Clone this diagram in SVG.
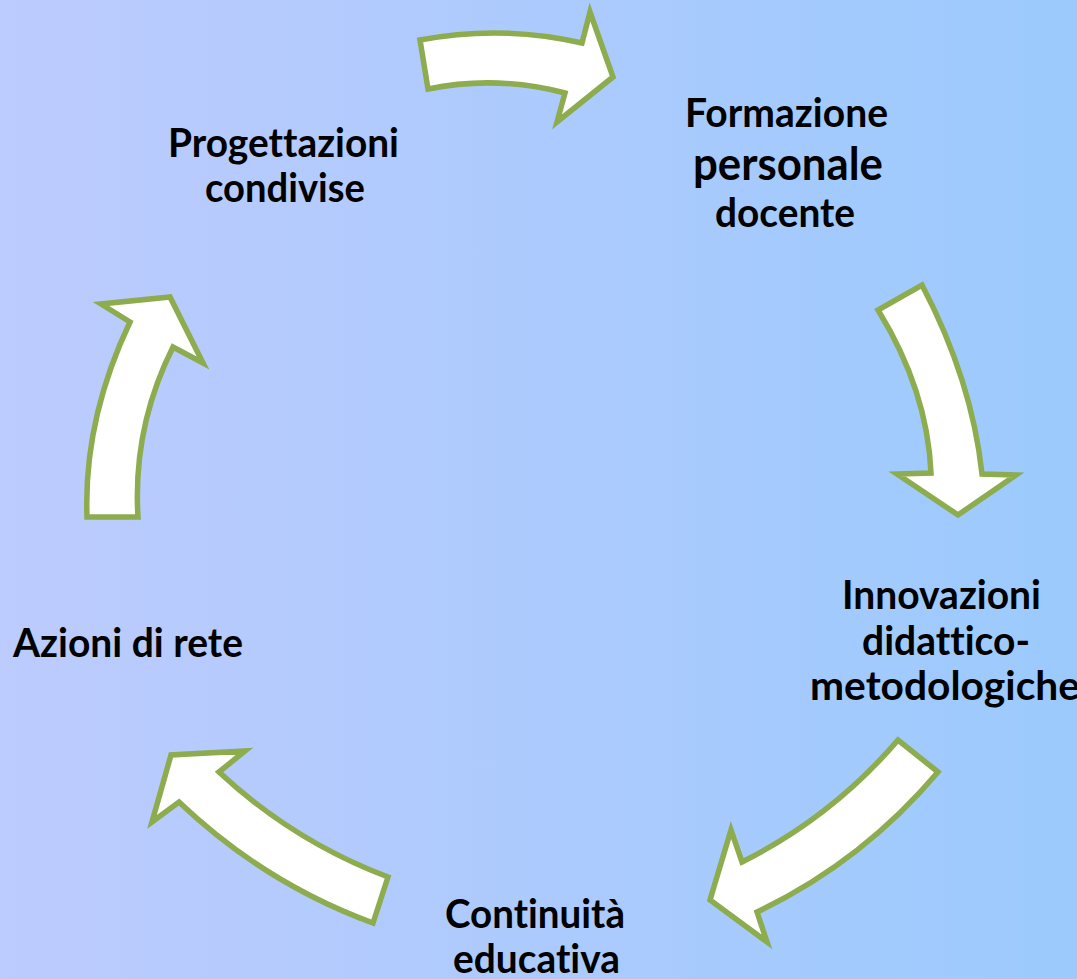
<svg xmlns="http://www.w3.org/2000/svg" width="1077" height="979" viewBox="0 0 1077 979">
<defs>
<linearGradient id="bg" x1="0" y1="0" x2="1" y2="0">
<stop offset="0" stop-color="#bdcbfd"/>
<stop offset="1" stop-color="#9ccafd"/>
</linearGradient>
<style>
.arr{fill:#ffffff;stroke:#8cac4e;stroke-width:5.5;stroke-linejoin:miter;stroke-miterlimit:10}
.lbl{font-family:Lato,"Open Sans","Liberation Sans",sans-serif;font-weight:bold;fill:#000000;text-anchor:middle;font-size:40px;font-variant-ligatures:none;font-feature-settings:"liga" 0,"clig" 0}
.big{font-size:45px}
</style>
</defs>
<rect x="0" y="0" width="1077" height="979" fill="url(#bg)"/>
<g id="connectors">
<path id="arrow-top" class="arr" d="M420,40 Q501,24.5 582,43 L590,12 L613,77 L557,122 L565,93 Q495.5,75 428,89 Z"/>
<path id="arrow-right" class="arr" d="M922,285 Q972,380.5 982,474 L1016,475 L958,515 L897,474 L931,473 Q927.5,390.5 878,310 Z"/>
<path id="arrow-bottom-right" class="arr" d="M938,772 Q862,862 757,912 L767,942 L710,900 L731,830 L742,862 Q832,817 898,740 Z"/>
<path id="arrow-bottom-left" class="arr" d="M373,923 Q264,883 179,802 L152,822 L171,755 L245,751 L219,772 Q293,841 388,877 Z"/>
<path id="arrow-left" class="arr" d="M87,517 Q83.5,420 130,322 L101,304 L170,297 L203,363 L173,347 Q132.5,428 138,517 Z"/>
</g>
<g id="node-progettazioni">
<text class="lbl" x="283.5" y="157" textLength="231" lengthAdjust="spacingAndGlyphs">Progettazioni</text>
<text class="lbl" x="285" y="202" textLength="160" lengthAdjust="spacingAndGlyphs">condivise</text>
</g>
<g id="node-formazione">
<text class="lbl" x="786.5" y="127" textLength="203" lengthAdjust="spacingAndGlyphs">Formazione</text>
<text class="lbl big" x="788" y="180" textLength="190" lengthAdjust="spacingAndGlyphs">personale</text>
<text class="lbl" x="785" y="227" textLength="140" lengthAdjust="spacingAndGlyphs">docente</text>
</g>
<g id="node-innovazioni">
<text class="lbl" x="941.5" y="609" textLength="199" lengthAdjust="spacingAndGlyphs">Innovazioni</text>
<text class="lbl" x="946" y="655" textLength="168" lengthAdjust="spacingAndGlyphs">didattico-</text>
<text class="lbl" x="945" y="700" textLength="270" lengthAdjust="spacingAndGlyphs">metodologiche</text>
</g>
<g id="node-continuita">
<text class="lbl" x="535" y="928" textLength="180" lengthAdjust="spacingAndGlyphs">Continuità</text>
<text class="lbl" x="536.5" y="973" textLength="167" lengthAdjust="spacingAndGlyphs">educativa</text>
</g>
<g id="node-azioni">
<text class="lbl" x="128" y="657" textLength="230" lengthAdjust="spacingAndGlyphs">Azioni di rete</text>
</g>
</svg>
